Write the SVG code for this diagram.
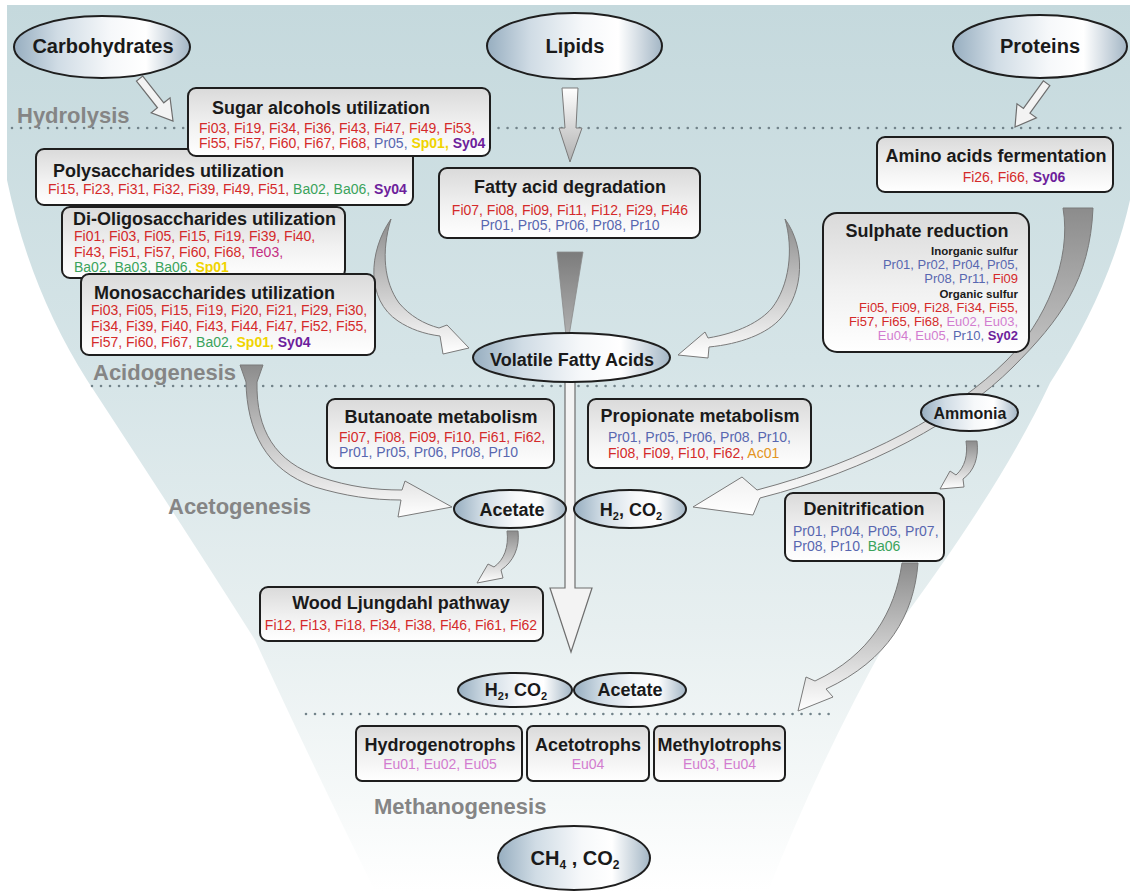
<svg xmlns="http://www.w3.org/2000/svg" width="1130" height="891" viewBox="0 0 1130 891">
<defs>
<linearGradient id="bg" x1="0" y1="0" x2="0" y2="1">
<stop offset="0" stop-color="#c5d9dd"/>
<stop offset="0.4" stop-color="#d5e4e7"/>
<stop offset="0.7" stop-color="#e7eff0"/>
<stop offset="0.9" stop-color="#f6f9f9"/>
<stop offset="1" stop-color="#ffffff"/>
</linearGradient>
<linearGradient id="eg" x1="0" y1="0" x2="1" y2="0">
<stop offset="0" stop-color="#97aec0"/>
<stop offset="0.25" stop-color="#d0dce5"/>
<stop offset="0.55" stop-color="#f6f8fa"/>
<stop offset="0.75" stop-color="#ffffff"/>
<stop offset="1" stop-color="#a3b6c5"/>
</linearGradient>
<linearGradient id="bxg" x1="0" y1="0" x2="0" y2="1">
<stop offset="0" stop-color="#dadada"/>
<stop offset="0.55" stop-color="#f1f1f1"/>
<stop offset="1" stop-color="#ffffff"/>
</linearGradient>
<linearGradient id="ag" x1="0" y1="0" x2="0" y2="1">
<stop offset="0" stop-color="#8c8c8c"/>
<stop offset="1" stop-color="#ffffff"/>
</linearGradient>
<linearGradient id="ag2" x1="0" y1="0" x2="0" y2="1">
<stop offset="0" stop-color="#ffffff"/>
<stop offset="1" stop-color="#b0b0b0"/>
</linearGradient>
<linearGradient id="wg" x1="0" y1="0" x2="0" y2="1">
<stop offset="0" stop-color="#7c7c7c"/>
<stop offset="1" stop-color="#b0b0b0"/>
</linearGradient>
<path id="hollow" d="M -54,-4 L -20,-4 L -20,-12 L 0,0 L -20,12 L -20,4 L -54,4 Z"/>
</defs>
<style>
.box{fill:url(#bxg);stroke:#1e1e1e;stroke-width:2}
.ell{fill:url(#eg);stroke:#1e1e1e;stroke-width:2}
.t{font-family:"Liberation Sans",Arial,sans-serif;font-weight:bold;font-size:18px;fill:#1a1a1a}
.et{font-family:"Liberation Sans",Arial,sans-serif;font-weight:bold;font-size:20px;fill:#1a1a1a;text-anchor:middle}
.r{font-family:"Liberation Sans",Arial,sans-serif;font-size:14px}
.rs{font-family:"Liberation Sans",Arial,sans-serif;font-size:13px}
.s{font-family:"Liberation Sans",Arial,sans-serif;font-weight:bold;font-size:11.5px;fill:#1a1a1a;text-anchor:end}
.ph{font-family:"Liberation Sans",Arial,sans-serif;font-weight:bold;font-size:22px;fill:#858585}
.m{text-anchor:middle}
.e{text-anchor:end}
.fi{fill:#d42a2a}.pr{fill:#5867b0}.ba{fill:#3aa35b}.sp{fill:#f0d400;font-weight:bold}.sy{fill:#6d1e9c;font-weight:bold}.eu{fill:#d27ccf}.te{fill:#c42d82}.ac{fill:#e39420}
.dots{stroke:#72838a;stroke-width:2.6;stroke-linecap:round;stroke-dasharray:0.01 9;fill:none}
.ga{fill:url(#ag);stroke:#7a7a7a;stroke-width:1}
.ha{fill:#f3f3f3;stroke:#6e6e6e;stroke-width:1.2}
</style>

<path id="funnel" fill="url(#bg)" d="M 7,5 H 1130 V 200 Q 1110,290 1050,383 Q 1000,490 887,640 Q 820,760 768,891 H 375 Q 310,760 255,640 Q 195,545 87,380 Q 30,290 7,180 Z"/>

<g id="phases">
<line class="dots" x1="12" y1="128" x2="1123" y2="128"/>
<line class="dots" x1="92" y1="386" x2="1043" y2="386"/>
<line class="dots" x1="306" y1="714" x2="832" y2="714"/>
<text class="ph" x="17" y="123">Hydrolysis</text>
<text class="ph" x="93" y="380">Acidogenesis</text>
<text class="ph" x="168" y="514">Acetogenesis</text>
<text class="ph" x="374" y="814">Methanogenesis</text>
</g>

<g id="connectors">
<use href="#hollow" class="ha" transform="translate(173,121) rotate(51.8)"/>
<use href="#hollow" class="ha" transform="translate(1015,127) rotate(125.8)"/>
<path fill="url(#ag2)" stroke="#7a7a7a" stroke-width="1" d="M 562,88 L 578,88 L 576,128 L 582,128 L 570,162 L 559,128 L 565,128 Z"/>
<path class="ga" d="M 391,219 C 368,252 366,300 398,321 C 410,329 424,334 440,336 L 443,354 L 469,348 L 447,325 L 439,328 C 424,324 410,316 399,303 C 384,282 381,252 391,219 Z"/>
<path class="ga" d="M 785,219 C 806,248 804,292 781,318 C 767,334 740,344 709,347 L 708,358 L 678,355 L 705,332 L 708,338 C 738,333 760,322 772,308 C 789,286 794,250 785,219 Z"/>
<path fill="url(#wg)" stroke="#8a8a8a" stroke-width="0.8" d="M 557,252 L 583,252 L 569,336 L 566,336 Z"/>
<path class="ha" d="M 565,380 L 575,380 L 575,588 L 592,588 L 571,652 L 550,588 L 565,588 Z"/>
<path class="ga" d="M 240,365 L 263,365 L 257,382 C 256,430 275,462 320,477 C 350,487 375,490 402,490 L 405,481 L 452,507 L 398,517 L 401,500 C 372,500 345,496 315,487 C 265,470 247,430 246,382 Z"/>
<path class="ga" d="M 1063,208 L 1093,208 C 1090,280 1060,320 1013,367 C 960,420 870,470 760,498 L 753,515 L 693,507 L 742,477 L 757,490 C 865,462 955,412 1007,360 C 1045,322 1072,260 1063,208 Z"/>
<path class="ga" d="M 966,441 L 977,441 C 979,458 974,471 963,479 L 964,487 L 940,489 L 950,471 L 956,475 C 965,467 968,455 966,441 Z"/>
<path class="ga" d="M 507,531 L 518,531 C 520,548 513,562 501,570 L 503,578 L 477,583 L 488,564 L 494,567 C 504,560 509,547 507,531 Z"/>
<path class="ga" d="M 902,563 L 918,563 C 914,615 888,660 826,689 L 833,697 L 798,711 L 806,677 L 815,681 C 870,655 895,612 902,563 Z"/>
</g>

<g id="n-carbohydrates"><ellipse class="ell" cx="102" cy="47" rx="88" ry="31"/><text class="et" x="103" y="53">Carbohydrates</text></g>
<g id="n-lipids"><ellipse class="ell" cx="574.5" cy="46" rx="87.5" ry="33"/><text class="et" x="575" y="53">Lipids</text></g>
<g id="n-proteins"><ellipse class="ell" cx="1040" cy="46.5" rx="87" ry="31.5"/><text class="et" x="1040" y="53">Proteins</text></g>

<g id="n-dioligo">
<rect class="box" x="62" y="207" width="283" height="71" rx="8"/>
<text class="t" x="73" y="224.5">Di-Oligosaccharides utilization</text>
<text class="r" x="74" y="241"><tspan class="fi">Fi01, Fi03, Fi05, Fi15, Fi19, Fi39, Fi40,</tspan></text>
<text class="r" x="74" y="257"><tspan class="fi">Fi43, Fi51, Fi57, Fi60, Fi68, </tspan><tspan class="te">Te03,</tspan></text>
<text class="r" x="74" y="272"><tspan class="ba">Ba02, Ba03, Ba06, </tspan><tspan class="sp">Sp01</tspan></text>
</g>
<g id="n-poly">
<rect class="box" x="36" y="149" width="377" height="56" rx="8"/>
<text class="t" x="53" y="176.5">Polysaccharides utilization</text>
<text class="r" x="48" y="194"><tspan class="fi">Fi15, Fi23, Fi31, Fi32, Fi39, Fi49, Fi51, </tspan><tspan class="ba">Ba02, Ba06, </tspan><tspan class="sy">Sy04</tspan></text>
</g>
<g id="n-sugar">
<rect class="box" x="188" y="88" width="302" height="68" rx="8"/>
<text class="t" x="212" y="113.5">Sugar alcohols utilization</text>
<text class="r" x="199" y="133"><tspan class="fi">Fi03, Fi19, Fi34, Fi36, Fi43, Fi47, Fi49, Fi53,</tspan></text>
<text class="r" x="199" y="148"><tspan class="fi">Fi55, Fi57, Fi60, Fi67, Fi68, </tspan><tspan class="pr">Pr05, </tspan><tspan class="sp">Sp01, </tspan><tspan class="sy">Sy04</tspan></text>
</g>
<g id="n-mono">
<rect class="box" x="81" y="274" width="294" height="81" rx="8"/>
<text class="t" x="94" y="298.5">Monosaccharides utilization</text>
<text class="r" x="91" y="315"><tspan class="fi">Fi03, Fi05, Fi15, Fi19, Fi20, Fi21, Fi29, Fi30,</tspan></text>
<text class="r" x="91" y="331"><tspan class="fi">Fi34, Fi39, Fi40, Fi43, Fi44, Fi47, Fi52, Fi55,</tspan></text>
<text class="r" x="91" y="347"><tspan class="fi">Fi57, Fi60, Fi67, </tspan><tspan class="ba">Ba02, </tspan><tspan class="sp">Sp01, </tspan><tspan class="sy">Sy04</tspan></text>
</g>

<g id="n-fatty">
<rect class="box" x="439" y="168" width="261" height="70" rx="8"/>
<text class="t m" x="570" y="193">Fatty acid degradation</text>
<text class="r m" x="570" y="215"><tspan class="fi">Fi07, Fi08, Fi09, Fi11, Fi12, Fi29, Fi46</tspan></text>
<text class="r m" x="570" y="230"><tspan class="pr">Pr01, Pr05, Pr06, Pr08, Pr10</tspan></text>
</g>

<g id="n-amino">
<rect class="box" x="877" y="137" width="236" height="55" rx="8"/>
<text class="t m" x="996" y="161.5">Amino acids fermentation</text>
<text class="r m" x="1014" y="182"><tspan class="fi">Fi26, Fi66, </tspan><tspan class="sy">Sy06</tspan></text>
</g>

<g id="n-sulphate">
<rect class="box" x="823" y="213" width="206" height="139" rx="14"/>
<text class="t m" x="927" y="237">Sulphate reduction</text>
<text class="s" x="1018" y="254.5">Inorganic sulfur</text>
<text class="rs e" x="1018" y="269"><tspan class="pr">Pr01, Pr02, Pr04, Pr05,</tspan></text>
<text class="rs e" x="1018" y="283"><tspan class="pr">Pr08, Pr11, </tspan><tspan class="fi">Fi09</tspan></text>
<text class="s" x="1018" y="297.5">Organic sulfur</text>
<text class="rs e" x="1018" y="312"><tspan class="fi">Fi05, Fi09, Fi28, Fi34, Fi55,</tspan></text>
<text class="rs e" x="1018" y="326"><tspan class="fi">Fi57, Fi65, Fi68, </tspan><tspan class="eu">Eu02, Eu03,</tspan></text>
<text class="rs e" x="1018" y="340"><tspan class="eu">Eu04, Eu05, </tspan><tspan class="pr">Pr10, </tspan><tspan class="sy">Sy02</tspan></text>
</g>

<g id="n-vfa"><ellipse class="ell" cx="571.5" cy="357.5" rx="98.5" ry="24.5"/><text class="t m" x="572" y="365.5">Volatile Fatty Acids</text></g>

<g id="n-butanoate">
<rect class="box" x="327" y="399" width="227" height="69" rx="8"/>
<text class="t m" x="441" y="422.5">Butanoate metabolism</text>
<text class="r" x="339" y="442"><tspan class="fi">Fi07, Fi08, Fi09, Fi10, Fi61, Fi62,</tspan></text>
<text class="r" x="339" y="457"><tspan class="pr">Pr01, Pr05, Pr06, Pr08, Pr10</tspan></text>
</g>

<g id="n-propionate">
<rect class="box" x="588" y="399" width="223" height="69" rx="8"/>
<text class="t m" x="700" y="421.5">Propionate metabolism</text>
<text class="r" x="608" y="442"><tspan class="pr">Pr01, Pr05, Pr06, Pr08, Pr10,</tspan></text>
<text class="r" x="608" y="458"><tspan class="fi">Fi08, Fi09, Fi10, Fi62, </tspan><tspan class="ac">Ac01</tspan></text>
</g>

<g id="n-ammonia"><ellipse class="ell" cx="969.5" cy="412.5" rx="48.5" ry="18.5"/><text class="t m" x="970" y="419" style="font-size:16px">Ammonia</text></g>

<g id="n-acetate1"><ellipse class="ell" cx="510" cy="509" rx="56" ry="19"/><text class="t m" x="512" y="515.5">Acetate</text></g>
<g id="n-h2co2-1"><ellipse class="ell" cx="630" cy="509" rx="56" ry="19"/><text class="t m" x="631" y="515.5">H<tspan font-size="11" dy="4">2</tspan><tspan dy="-4">, CO</tspan><tspan font-size="11" dy="4">2</tspan></text></g>

<g id="n-denit">
<rect class="box" x="785" y="493" width="159" height="68" rx="8"/>
<text class="t m" x="864" y="514.5">Denitrification</text>
<text class="r" x="793" y="536"><tspan class="pr">Pr01, Pr04, Pr05, Pr07,</tspan></text>
<text class="r" x="793" y="551"><tspan class="pr">Pr08, Pr10, </tspan><tspan class="ba">Ba06</tspan></text>
</g>

<g id="n-wood">
<rect class="box" x="260" y="587" width="283" height="54" rx="8"/>
<text class="t m" x="401" y="608.5">Wood Ljungdahl pathway</text>
<text class="r m" x="401" y="630"><tspan class="fi">Fi12, Fi13, Fi18, Fi34, Fi38, Fi46, Fi61, Fi62</tspan></text>
</g>

<g id="n-h2co2-2"><ellipse class="ell" cx="515" cy="690" rx="57" ry="17"/><text class="t m" x="516" y="696">H<tspan font-size="11" dy="4">2</tspan><tspan dy="-4">, CO</tspan><tspan font-size="11" dy="4">2</tspan></text></g>
<g id="n-acetate2"><ellipse class="ell" cx="630" cy="690" rx="56" ry="17"/><text class="t m" x="630" y="696">Acetate</text></g>

<g id="n-hydrogeno">
<rect class="box" x="356" y="726" width="166" height="55" rx="6"/>
<text class="t m" x="440" y="750.5">Hydrogenotrophs</text>
<text class="r m" x="440" y="769"><tspan class="eu">Eu01, Eu02, Eu05</tspan></text>
</g>
<g id="n-aceto">
<rect class="box" x="527" y="726" width="122" height="55" rx="6"/>
<text class="t m" x="588" y="750.5">Acetotrophs</text>
<text class="r m" x="588" y="769"><tspan class="eu">Eu04</tspan></text>
</g>
<g id="n-methylo">
<rect class="box" x="654" y="726" width="131" height="55" rx="6"/>
<text class="t m" x="719.5" y="750.5">Methylotrophs</text>
<text class="r m" x="719.5" y="769"><tspan class="eu">Eu03, Eu04</tspan></text>
</g>

<g id="n-ch4"><ellipse class="ell" cx="574" cy="858" rx="76" ry="32"/><text class="et" x="575" y="865">CH<tspan font-size="12" dy="4">4</tspan><tspan dy="-4"> , CO</tspan><tspan font-size="12" dy="4">2</tspan></text></g>
</svg>
